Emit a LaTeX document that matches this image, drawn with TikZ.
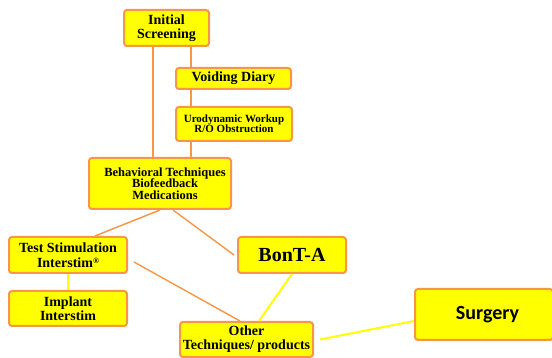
\documentclass[tikz,border=0pt]{standalone}
\usepackage{fontspec}
\setmainfont{Liberation Serif}
\newfontfamily\calfont{Carlito}
\definecolor{boxorange}{HTML}{F79646}
\definecolor{boxyellow}{HTML}{FFFF00}
\definecolor{lineyellow}{HTML}{FFFF00}
\tikzset{
  box/.style={draw=boxorange, line width=2pt, fill=boxyellow, rounded corners=3pt,
    align=center, inner sep=0pt, font=\bfseries},
  oline/.style={draw=boxorange, line width=1.4pt},
  yline/.style={draw=lineyellow, line width=2pt},
}
\begin{document}
\begin{tikzpicture}[x=1pt,y=-1pt]
\useasboundingbox (0,0) rectangle (552,358);
\node[box, minimum width=85pt, minimum height=36pt, font=\bfseries\fontsize{14}{14}\selectfont] (init) at (166.5,28) {Initial\\Screening};
\node[box, minimum width=115pt, minimum height=21pt, font=\bfseries\fontsize{14}{14}\selectfont] (diary) at (233.5,78.5) {Voiding Diary};
\node[box, minimum width=116pt, minimum height=34pt, font=\bfseries\fontsize{11}{10.5}\selectfont] (uro) at (234,124) {Urodynamic Workup\\R/O Obstruction};
\node[box, minimum width=142pt, minimum height=51pt, font=\bfseries\fontsize{12.5}{11.7}\selectfont] (behav) at (160,183.5) {\hspace*{10pt}Behavioral Techniques\\\hspace*{10pt}Biofeedback\\\hspace*{10pt}Medications};
\node[box, minimum width=118pt, minimum height=36pt, font=\bfseries\fontsize{14}{15}\selectfont] (test) at (68,255) {Test Stimulation\\Interstim\raisebox{3.5pt}{\fontsize{8}{8}\selectfont\textregistered}};
\node[box, minimum width=108pt, minimum height=36pt, font=\bfseries\fontsize{20}{20}\selectfont] (bont) at (292,255) {BonT-A};
\node[box, minimum width=118pt, minimum height=35pt, font=\bfseries\fontsize{14}{14}\selectfont] (implant) at (68,308.5) {Implant\\Interstim};
\node[box, minimum width=133pt, minimum height=35pt, font=\bfseries\fontsize{14}{14}\selectfont] (other) at (246.5,339.5) {Other\\Techniques/ products};
\node[box, minimum width=138pt, minimum height=51pt, font=\calfont\bfseries\fontsize{20}{20}\selectfont] (surgery) at (484,314.5) {\hspace*{7pt}Surgery};
\draw[oline] ([xshift=-13.5pt]init.south) -- ([xshift=-7pt]behav.north);
\draw[oline] ([xshift=24.5pt]init.south) -- ([xshift=-42.5pt]diary.north);
\draw[oline] ([xshift=-42.5pt]diary.south) -- ([xshift=-43pt]uro.north);
\draw[oline] ([xshift=-43pt]uro.south) -- ([xshift=31pt]behav.north);
\draw[oline] (behav.south) -- ([xshift=27pt]test.north);
\draw[oline] ([xshift=13pt]behav.south) -- ([xshift=-3pt]bont.west);
\draw[oline] ([xshift=6pt,yshift=-7pt]test.east) -- ([xshift=-6.5pt]other.north);
\draw[yline] (test.south) -- (implant.north);
\draw[yline] (bont.south) -- ([xshift=12.5pt]other.north);
\draw[yline] ([xshift=6pt]other.east) -- ([yshift=-6.5pt]surgery.west);
\end{tikzpicture}
\end{document}
